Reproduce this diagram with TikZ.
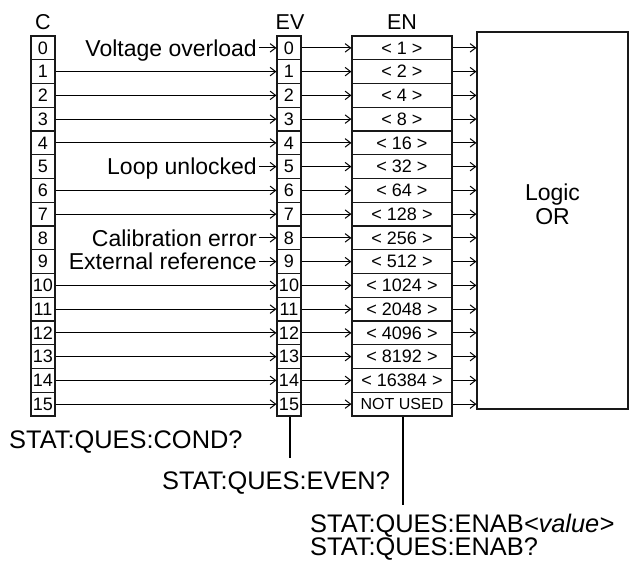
\documentclass[tikz,border=0pt]{standalone}
\usepackage{fontspec}
\setmainfont{Liberation Sans}
\usetikzlibrary{arrows.meta}
\begin{document}
\begin{tikzpicture}[x=1pt,y=-1pt,
  cell/.style={draw=black!90, line width=1.2pt, minimum width=24pt, minimum height=23.75pt,
    inner sep=0pt, text height=12.6pt, text depth=0pt, font=\fontsize{18}{18}\selectfont},
  encell/.style={cell, minimum width=100pt, font=\fontsize{18}{18}\selectfont},
  conn/.style={line width=1pt, -{Straight Barb[length=5.5pt,width=8.5pt]}},
  lbl/.style={inner sep=0pt, text height=16.5pt, text depth=0pt, font=\fontsize{23}{23}\selectfont},
  head/.style={inner sep=0pt, text height=15pt, text depth=0pt, font=\fontsize{21.5}{22}\selectfont},
  bot/.style={inner sep=0pt, anchor=west, text height=18.2pt, text depth=0pt, font=\fontsize{25.4}{26}\selectfont},
  stem/.style={line width=2.4pt}]
\useasboundingbox (0,0) rectangle (629,562);
% headings
\node[head] (hc) at (43,22) {C};
\node[head] (hev) at (290,22) {EV};
\node[head] (hen) at (402,22) {EN};
% columns
\foreach \i in {0,...,15} {
  \node[cell] (c\i) at (43,{47.875+23.75*\i}) {\i};
  \node[cell] (ev\i) at (289,{47.875+23.75*\i}) {\i};
}
\foreach \i/\t in {0/1,1/2,2/4,3/8,4/16,5/32,6/64,7/128,8/256,9/512,10/1024,11/2048,12/4096,13/8192,14/16384} {
  \node[encell] (en\i) at (402,{47.875+23.75*\i}) {< \t{} >};
}
\node[encell, font=\fontsize{16}{16}\selectfont, text height=11.5pt] (en15) at (402,{47.875+23.75*15}) {NOT USED};
% logic box
\node[draw=black!90, line width=1.2pt, minimum width=151pt, minimum height=377pt, inner sep=0pt] (orbox) at (552.5,220.5) {};
\node[inner sep=0pt, anchor=base, font=\fontsize{23}{23}\selectfont] (logic) at (552.5,200.7) {Logic};
\node[inner sep=0pt, anchor=base, font=\fontsize{23}{23}\selectfont] (ortxt) at (552.5,224) {OR};
% labels
\node[lbl, anchor=east] (l0) at (257,47.875) {Voltage overload};
\node[lbl, anchor=east] (l5) at (257,{47.875+23.75*5}) {Loop unlocked};
\node[lbl, anchor=east] (l8) at (257,{47.875+23.75*8}) {Calibration error};
\node[lbl, anchor=east] (l9) at (257,{47.875+23.75*9}) {External reference};
\foreach \i in {0,5,8,9} {
  \draw[conn, shorten <=2pt] (l\i.east) -- (ev\i.west);
}
\foreach \i in {1,2,3,4,6,7,10,11,12,13,14,15} {
  \draw[conn] (c\i.east) -- (ev\i.west);
}
\foreach \i in {0,...,15} {
  \draw[conn] (ev\i.east) -- (en\i.west);
  \draw[conn] (en\i.east) -- (en\i.east -| orbox.west);
}
% queries
\coordinate (evend) at (290,458);
\coordinate (enend) at (403,505);
\draw[stem] (ev15.south -| evend) -- (evend);
\draw[stem] (en15.south -| enend) -- (enend);
\node[bot] (cond) at (9,439) {STAT:QUES:COND?};
\node[bot] (even) at (162,480) {STAT:QUES:EVEN?};
\node[bot] (enab) at (310,523.5) {STAT:QUES:ENAB\textit{<value>}};
\node[bot] (enabq) at (310,546.5) {STAT:QUES:ENAB?};
\end{tikzpicture}
\end{document}
